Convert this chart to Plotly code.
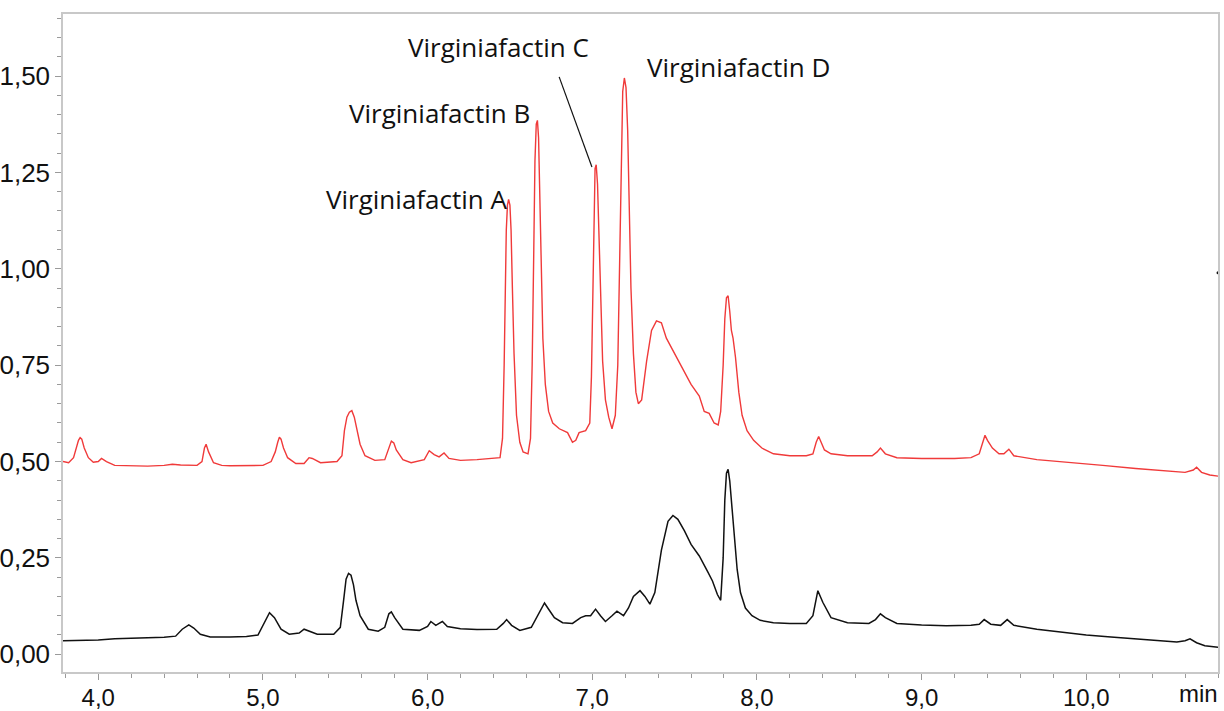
import plotly.graph_objects as go

# Red trace (upper chromatogram): retention time (min) and signal
red_t = [3.786, 3.82, 3.85, 3.865, 3.88, 3.89, 3.90, 3.915, 3.94, 3.97, 4.00, 4.02, 4.05, 4.10, 4.2, 4.3,
         4.4, 4.45, 4.5, 4.55, 4.6, 4.63, 4.645, 4.655, 4.67, 4.70, 4.75, 4.8, 4.9, 5.0, 5.05, 5.075,
         5.09, 5.10, 5.11, 5.125, 5.15, 5.2, 5.25, 5.28, 5.30, 5.35, 5.45, 5.48, 5.495, 5.51, 5.525, 5.54,
         5.555, 5.57, 5.59, 5.62, 5.68, 5.74, 5.765, 5.78, 5.795, 5.81, 5.85, 5.9, 5.98, 6.01, 6.04, 6.07,
         6.10, 6.13, 6.2, 6.3, 6.44, 6.455, 6.465, 6.472, 6.478, 6.485, 6.492, 6.50, 6.507, 6.515, 6.525, 6.54,
         6.56, 6.58, 6.61, 6.625, 6.635, 6.645, 6.652, 6.66, 6.667, 6.674, 6.682, 6.69, 6.70, 6.715, 6.735, 6.76,
         6.80, 6.85, 6.88, 6.90, 6.92, 6.96, 6.985, 6.995, 7.003, 7.01, 7.017, 7.024, 7.032, 7.04, 7.05, 7.063,
         7.08, 7.10, 7.12, 7.14, 7.155, 7.165, 7.175, 7.185, 7.195, 7.205, 7.215, 7.225, 7.235, 7.25, 7.265, 7.28,
         7.30, 7.33, 7.36, 7.39, 7.42, 7.45, 7.50, 7.55, 7.60, 7.65, 7.68, 7.71, 7.74, 7.765, 7.78, 7.795,
         7.805, 7.815, 7.825, 7.835, 7.845, 7.855, 7.87, 7.89, 7.91, 7.94, 7.98, 8.03, 8.1, 8.2, 8.3, 8.34,
         8.36, 8.375, 8.39, 8.41, 8.45, 8.55, 8.7, 8.73, 8.75, 8.78, 8.85, 9.0, 9.2, 9.3, 9.35, 9.37,
         9.385, 9.40, 9.43, 9.47, 9.5, 9.53, 9.56, 9.7, 9.9, 10.1, 10.3, 10.5, 10.6, 10.65, 10.67, 10.70,
         10.75, 10.8]
red_v = [0.500, 0.497, 0.51, 0.535, 0.555, 0.562, 0.558, 0.535, 0.51, 0.498, 0.50, 0.508, 0.500, 0.490, 0.489, 0.488,
         0.490, 0.493, 0.491, 0.490, 0.490, 0.50, 0.535, 0.545, 0.525, 0.497, 0.490, 0.489, 0.489, 0.490, 0.50, 0.525,
         0.55, 0.563, 0.558, 0.535, 0.51, 0.495, 0.495, 0.51, 0.508, 0.497, 0.50, 0.515, 0.58, 0.615, 0.628, 0.632,
         0.615, 0.585, 0.545, 0.515, 0.503, 0.505, 0.535, 0.553, 0.548, 0.53, 0.505, 0.497, 0.505, 0.528, 0.518, 0.512,
         0.522, 0.508, 0.503, 0.505, 0.51, 0.56, 0.75, 0.95, 1.10, 1.165, 1.18, 1.165, 1.10, 0.95, 0.78, 0.62,
         0.55, 0.525, 0.52, 0.56, 0.75, 1.05, 1.28, 1.375, 1.385, 1.34, 1.2, 1.0, 0.82, 0.70, 0.63, 0.60,
         0.585, 0.575, 0.55, 0.555, 0.575, 0.58, 0.60, 0.72, 0.95, 1.17, 1.26, 1.27, 1.22, 1.10, 0.92, 0.76,
         0.66, 0.615, 0.585, 0.62, 0.75, 1.0, 1.3, 1.46, 1.495, 1.47, 1.36, 1.15, 0.95, 0.78, 0.68, 0.65,
         0.66, 0.76, 0.84, 0.865, 0.86, 0.82, 0.78, 0.74, 0.70, 0.67, 0.63, 0.625, 0.60, 0.595, 0.63, 0.75,
         0.87, 0.925, 0.93, 0.89, 0.84, 0.82, 0.77, 0.68, 0.62, 0.58, 0.555, 0.535, 0.52, 0.515, 0.515, 0.52,
         0.55, 0.565, 0.548, 0.53, 0.52, 0.515, 0.515, 0.525, 0.535, 0.52, 0.51, 0.508, 0.508, 0.51, 0.52, 0.55,
         0.568, 0.555, 0.535, 0.52, 0.52, 0.532, 0.515, 0.505, 0.498, 0.49, 0.482, 0.475, 0.472, 0.478, 0.485, 0.472,
         0.465, 0.462]

# Black trace (lower chromatogram)
black_t = [3.786, 3.9, 4.0, 4.1, 4.2, 4.3, 4.4, 4.47, 4.51, 4.55, 4.58, 4.62, 4.68, 4.8, 4.9, 4.97,
           5.01, 5.04, 5.07, 5.11, 5.16, 5.22, 5.25, 5.28, 5.33, 5.43, 5.47, 5.49, 5.505, 5.52, 5.535, 5.55,
           5.565, 5.59, 5.64, 5.70, 5.74, 5.765, 5.78, 5.80, 5.85, 5.95, 6.0, 6.02, 6.05, 6.07, 6.09, 6.12,
           6.2, 6.3, 6.42, 6.46, 6.48, 6.51, 6.56, 6.63, 6.68, 6.71, 6.73, 6.77, 6.82, 6.88, 6.93, 6.96,
           6.99, 7.02, 7.05, 7.08, 7.12, 7.15, 7.19, 7.22, 7.25, 7.29, 7.32, 7.35, 7.38, 7.42, 7.46, 7.49,
           7.52, 7.56, 7.60, 7.65, 7.70, 7.73, 7.76, 7.78, 7.795, 7.805, 7.815, 7.825, 7.835, 7.85, 7.865, 7.88,
           7.90, 7.93, 7.97, 8.02, 8.1, 8.2, 8.3, 8.34, 8.37, 8.40, 8.45, 8.55, 8.68, 8.72, 8.75, 8.78,
           8.85, 9.0, 9.15, 9.3, 9.35, 9.38, 9.42, 9.48, 9.52, 9.56, 9.7, 9.85, 10.0, 10.15, 10.3, 10.45,
           10.55, 10.6, 10.63, 10.67, 10.72, 10.8]
black_v = [0.035, 0.036, 0.037, 0.040, 0.041, 0.043, 0.044, 0.047, 0.065, 0.076, 0.068, 0.052, 0.045, 0.045, 0.046, 0.050,
           0.085, 0.108, 0.095, 0.065, 0.052, 0.055, 0.065, 0.060, 0.052, 0.052, 0.07, 0.14, 0.195, 0.21, 0.205, 0.18,
           0.14, 0.10, 0.065, 0.060, 0.07, 0.105, 0.11, 0.095, 0.065, 0.062, 0.072, 0.085, 0.075, 0.08, 0.085, 0.072,
           0.066, 0.064, 0.065, 0.08, 0.09, 0.075, 0.062, 0.07, 0.11, 0.133, 0.12, 0.095, 0.082, 0.08, 0.095, 0.10,
           0.10, 0.117, 0.10, 0.085, 0.10, 0.112, 0.10, 0.12, 0.15, 0.165, 0.15, 0.13, 0.16, 0.27, 0.345, 0.36,
           0.35, 0.32, 0.285, 0.255, 0.215, 0.19, 0.155, 0.14, 0.25, 0.40, 0.47, 0.48, 0.45, 0.38, 0.30, 0.22,
           0.16, 0.12, 0.10, 0.088, 0.082, 0.08, 0.08, 0.10, 0.165, 0.135, 0.095, 0.082, 0.08, 0.09, 0.105, 0.095,
           0.08, 0.076, 0.074, 0.075, 0.078, 0.09, 0.078, 0.075, 0.09, 0.075, 0.065, 0.058, 0.05, 0.045, 0.04, 0.035,
           0.032, 0.035, 0.04, 0.03, 0.022, 0.018]

# Peak labels
label_text = ["Virginiafactin A", "Virginiafactin B", "Virginiafactin C", "Virginiafactin D"]
label_x = [6.495, 6.629, 6.986, 7.327]
label_y = [1.179, 1.402, 1.573, 1.521]
label_anchor = ["right", "right", "right", "left"]

# Leader line for label C (from label to peak C)
leader_x = [6.799, 6.998]
leader_y = [1.498, 1.264]

# Small stray mark at the right frame edge
dot_x = [10.80]
dot_y = [0.99]

fig = go.Figure()
fig.add_trace(go.Scatter(x=red_t, y=red_v, mode="lines",
                         line=dict(color="#f03a3a", width=1.4), hoverinfo="skip"))
fig.add_trace(go.Scatter(x=black_t, y=black_v, mode="lines",
                         line=dict(color="#111111", width=1.5), hoverinfo="skip"))
fig.add_trace(go.Scatter(x=leader_x, y=leader_y, mode="lines",
                         line=dict(color="#111111", width=1.2), hoverinfo="skip"))
fig.add_trace(go.Scatter(x=dot_x, y=dot_y, mode="markers", cliponaxis=False,
                         marker=dict(color="#111111", size=3), hoverinfo="skip"))

lab_font = dict(family="Open Sans, Noto Sans, sans-serif", size=26, color="#111111")
for t, x, y, a in zip(label_text, label_x, label_y, label_anchor):
    fig.add_annotation(x=x, y=y, text=t, showarrow=False, xanchor=a, yanchor="middle",
                       font=lab_font, borderpad=0, yshift=1)

fig.add_annotation(xref="paper", yref="paper", x=1.0, y=0, text="min", showarrow=False,
                   xanchor="right", yanchor="top", yshift=-7, xshift=1, borderpad=0,
                   font=dict(family="Liberation Sans, Arial", size=24, color="#111111"))

axis_common = dict(showline=True, linecolor="#c8c8c8", linewidth=1.5, mirror=True,
                   showgrid=False, zeroline=False, ticks="outside", tickcolor="#9a9a9a",
                   tickwidth=1, automargin=False)

fig.update_layout(
    width=1224, height=711,
    margin=dict(l=63, r=6, t=14, b=39),
    paper_bgcolor="white", plot_bgcolor="white",
    showlegend=False,
    separators=",.",
    xaxis=dict(range=[3.786, 10.80], tickmode="linear", tick0=4, dtick=1, tickformat=".1f",
               ticklen=6, ticklabelstandoff=-3,
               tickfont=dict(family="Liberation Sans, Arial", size=24, color="#111111"),
               minor=dict(tickmode="linear", tick0=4, dtick=0.2, ticklen=4, tickcolor="#9a9a9a",
                          ticks="outside", showgrid=False),
               **axis_common),
    yaxis=dict(range=[-0.046, 1.661], tickmode="linear", tick0=0, dtick=0.25, tickformat=".2f",
               ticklen=6,
               tickfont=dict(family="Liberation Sans, Arial", size=26, color="#111111"),
               minor=dict(tickmode="linear", tick0=0, dtick=0.05, ticklen=4, tickcolor="#9a9a9a",
                          ticks="outside", showgrid=False),
               **axis_common),
)

fig.write_html("out.html")
